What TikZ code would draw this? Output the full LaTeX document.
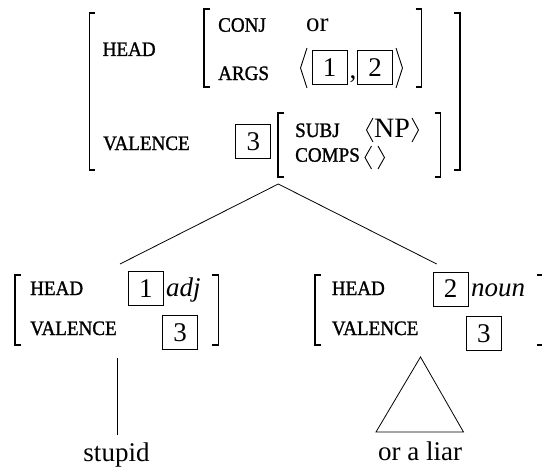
\documentclass[tikz,border=0pt]{standalone}
\usepackage{fontspec}
\setmainfont{Liberation Serif}
\newfontfamily\labfont[FakeStretch=0.93,FakeBold=1.2]{Liberation Serif}
\begin{document}
\begin{tikzpicture}[x=1pt,y=-1pt,
  lab/.style={anchor=base west,inner sep=0pt,font=\labfont\fontsize{20.5}{22}\selectfont},
  val/.style={anchor=base west,inner sep=0pt,font=\fontsize{27}{30}\selectfont},
  valc/.style={anchor=base,inner sep=0pt,font=\fontsize{27}{30}\selectfont},
  tag/.style={draw,line width=0.8pt,inner sep=0pt,minimum width=35pt,minimum height=34pt,font=\fontsize{27}{30}\selectfont},
  brk/.style={line width=1.4pt,line join=miter},
  ang/.style={line width=0.9pt,line join=miter},
  edge/.style={line width=0.8pt}]
\useasboundingbox (0,0) rectangle (542,471);
% ---------- top AVM ----------
\draw[brk] (95,13) -- (89.5,13) -- (89.5,170) -- (95,170);
\draw[brk] (454,13) -- (460,13) -- (460,170) -- (454,170);
\node[lab] (h0) at (102.5,56) {HEAD};
\draw[brk] (210,9) -- (204,9) -- (204,87) -- (210,87);
\draw[brk] (415.5,9) -- (421.5,9) -- (421.5,87) -- (415.5,87);
\node[lab] (conj) at (218,31.7) {CONJ};
\node[val] (or) at (306,31.7) {or};
\node[lab] (args) at (218,80) {ARGS};
\draw[ang] (307,48) -- (300.5,68) -- (307,88);
\node[tag] (t1) at (329.5,67.7) {1};
\node[val] (comma) at (349.5,78) {,};
\node[tag] (t2) at (375,67.7) {2};
\draw[ang] (396,48) -- (402.5,68) -- (396,88);
\node[lab] (v0) at (103,150) {VALENCE};
\node[tag] (t3) at (253.3,141.7) {3};
\draw[brk] (284,113) -- (278,113) -- (278,177) -- (284,177);
\draw[brk] (434.5,113) -- (440.5,113) -- (440.5,177) -- (434.5,177);
\node[lab] (subj) at (295,137) {SUBJ};
\draw[ang] (373,118) -- (366.5,130) -- (373,142);
\node[val,font=\fontsize{28}{30}\selectfont] (np) at (374,137) {NP};
\draw[ang] (412,118) -- (418.5,130) -- (412,142);
\node[lab] (comps) at (295,161.7) {COMPS};
\draw[ang] (371.5,146) -- (365,157.5) -- (371.5,169);
\draw[ang] (378,146) -- (384.5,157.5) -- (378,169);
% ---------- branches ----------
\coordinate (apex) at (278.3,184);
\coordinate (ltop) at (120,264);
\coordinate (rtop) at (436.7,264);
\draw[edge] (ltop) -- (apex) -- (rtop);
% ---------- lower left AVM ----------
\draw[brk] (21,275) -- (15,275) -- (15,345) -- (21,345);
\draw[brk] (212.3,275) -- (218.3,275) -- (218.3,345) -- (212.3,345);
\node[lab] (h1) at (30,295) {HEAD};
\node[tag] (l1) at (145.8,288.3) {1};
\node[val] (adj) at (166,296) {\itshape adj};
\node[lab] (v1) at (30,335) {VALENCE};
\node[tag] (l3) at (180,332.5) {3};
% ---------- lower right AVM ----------
\draw[brk] (321,275) -- (315,275) -- (315,345) -- (321,345);
\draw[brk] (537,275) -- (543,275) -- (543,345) -- (537,345);
\node[lab] (h2) at (331.7,295) {HEAD};
\node[tag] (r2) at (450.5,289) {2};
\node[val] (noun) at (471,296) {\itshape noun};
\node[lab] (v2) at (331.7,335) {VALENCE};
\node[tag] (r3) at (483.8,333.3) {3};
% ---------- daughters ----------
\coordinate (lbot) at (117,358);
\coordinate (lend) at (117,435);
\draw[edge] (lbot) -- (lend);
\node[valc] (stupid) at (116.5,461.7) {stupid};
\coordinate (tapex) at (420.5,357);
\coordinate (tl) at (376,432);
\coordinate (tr) at (463.5,432);
\draw[edge,line join=miter] (tapex) -- (tl) -- (tr) -- cycle;
\node[valc] (liar) at (420,460) {or a liar};
\end{tikzpicture}
\end{document}
